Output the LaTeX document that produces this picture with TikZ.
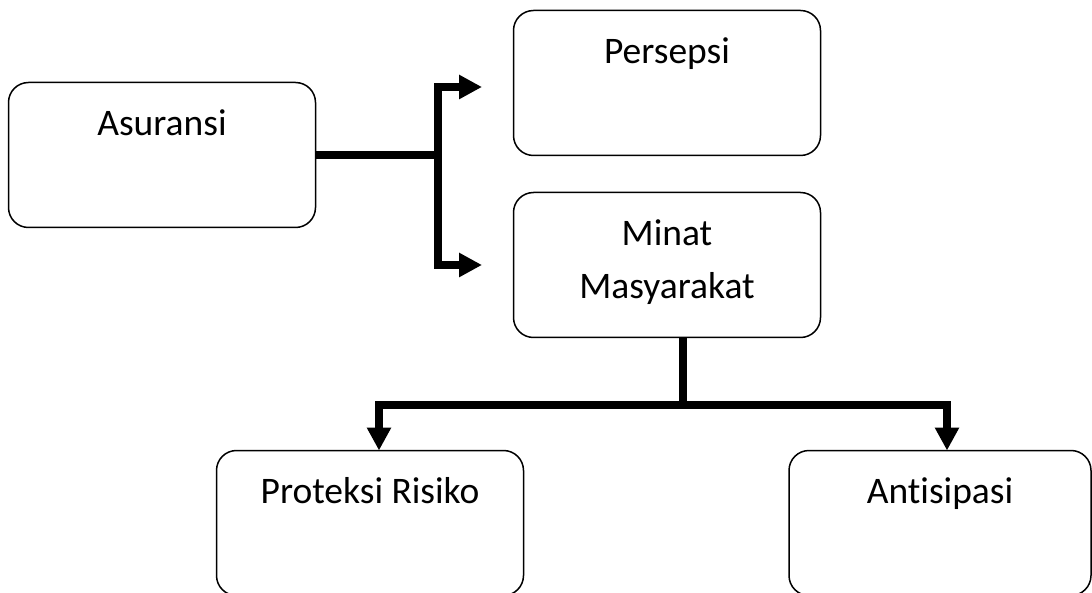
\documentclass[tikz,border=0pt]{standalone}
\usepackage{fontspec}
\setmainfont{Carlito}[Ligatures=NoCommon]
\usetikzlibrary{arrows.meta}

\begin{document}
\begin{tikzpicture}[x=1pt, y=-1pt, >={Triangle[length=23pt, width=23pt]}]

  % Sizes (page pixels)
  \def\bw{307} % box width
  \def\bh{145} % box height
  \def\tdrop{53.5pt} % box top to first baseline
  \def\lskip{53.5pt} % line to line

  \tikzset{
    box/.style={draw, line width=1.5pt, rounded corners=20pt,
      minimum width=\bw pt, minimum height=\bh pt, inner sep=0pt},
    boxtext/.style={anchor=base, font=\fontsize{37.5}{53.5}\selectfont,
      align=center, inner sep=0pt},
    link/.style={line width=7.5pt},
  }

  \clip (0,0) rectangle (1092,593);

  % Boxes
  \node[box] (asr) at (162,155) {};
  \node[box] (per) at (667,83) {};
  \node[box] (min) at (667,265) {};
  \node[box] (pro) at (370,523) {};
  \node[box, minimum width=302pt] (ant) at (940,523) {};

  % Box texts (base = last line)
  \node[boxtext] (asr-t) at ([yshift=-\tdrop]asr.north) {Asuransi};
  \node[boxtext] (per-t) at ([yshift=-\tdrop]per.north) {Persepsi};
  \node[boxtext] (min-t) at ([yshift=-\tdrop-\lskip]min.north) {Minat\\Masyarakat};
  \node[boxtext] (pro-t) at ([yshift=-\tdrop]pro.north) {Proteksi Risiko};
  \node[boxtext] (ant-t) at ([yshift=-\tdrop]ant.north) {Antisipasi};

  % Asuransi to Persepsi and Minat
  \coordinate (split) at (438,155);
  \coordinate (per-in) at (482,87);
  \coordinate (min-in) at (482,265);
  \draw[link] (asr.east) -- (split);
  \draw[link, ->] (split) |- (per-in);
  \draw[link, ->] (split) |- (min-in);

  % Minat to Proteksi Risiko and Antisipasi
  \coordinate (join) at (683,405);
  \coordinate (pro-in) at (379,450.5);
  \coordinate (ant-in) at (947,450.5);
  \draw[link] (min.south -| join) -- (join);
  \draw[link, ->] (join) -| (pro-in);
  \draw[link, ->] (join) -| (ant-in);

\end{tikzpicture}
\end{document}
